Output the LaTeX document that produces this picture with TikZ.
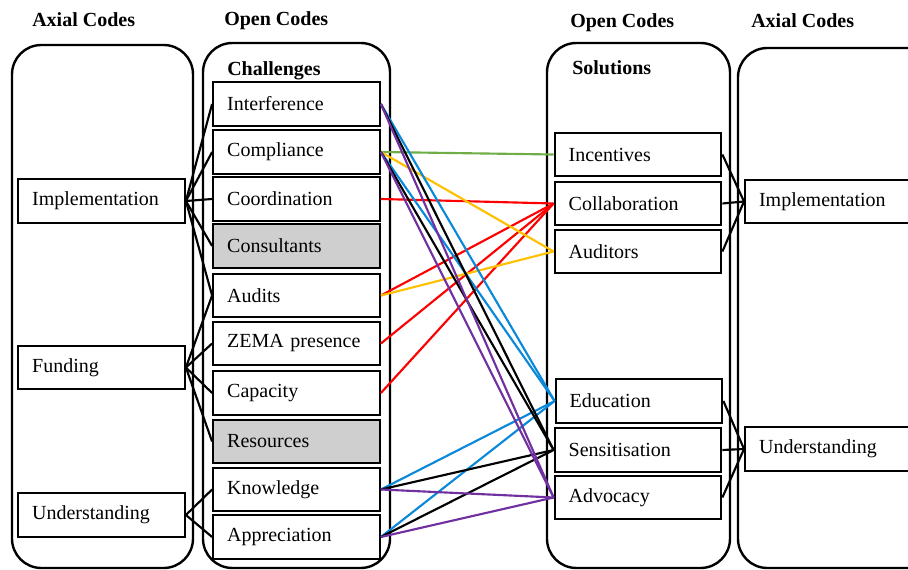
\documentclass[tikz,border=0pt]{standalone}
\usepackage{fontspec}
\setmainfont{Liberation Serif}
\definecolor{lnkgreen}{HTML}{70AD47}
\definecolor{lnkred}{HTML}{FF0000}
\definecolor{lnkyellow}{HTML}{FFC000}
\definecolor{lnkblue}{HTML}{0A88DA}
\definecolor{lnkpurple}{HTML}{7030A0}
\definecolor{greyfill}{HTML}{CFCFCF}
\begin{document}
\begin{tikzpicture}[x=0.75pt,y=-0.75pt,
  outer/.style={draw=black,line width=1.8pt,rounded corners=22pt},
  codebox/.style={draw=black,line width=1.6pt,fill=white,minimum height=32.5pt,
    text width=104pt,align=left,inner xsep=10.5pt,inner ysep=0pt,
    font=\fontsize{15}{18}\selectfont},
  widebox/.style={codebox,text width=125pt},
  shaded/.style={codebox,fill=greyfill},
  head/.style={anchor=base west,inner sep=0pt,font=\fontsize{15}{18}\selectfont\bfseries},
  tie/.style={draw=black,line width=1.6pt},
  link/.style={line width=1.6pt}]
\useasboundingbox (0,0) rectangle (908,570);
\clip (0,0) rectangle (908,570);

% column frames
\draw[outer] (12,45) rectangle (193,568);
\draw[outer] (203,43) rectangle (390,568);
\draw[outer] (547,43) rectangle (730,568);
\draw[outer] (738,48) rectangle (960,568);

% headings
\node[head] (h1) at (32,27) {Axial Codes};
\node[head] (h2) at (224,26) {Open Codes};
\node[head] (h3) at (227,76) {Challenges};
\node[head] (h4) at (570,28) {Open Codes};
\node[head] (h5) at (572,75) {Solutions};
\node[head] (h6) at (751,28) {Axial Codes};

% challenges
\node[codebox] (cInt) at (296.5,104) {Interference};
\node[codebox] (cCom) at (296.5,152) {Compliance};
\node[codebox] (cCoo) at (296.5,199) {Coordination};
\node[shaded]  (cCon) at (296.5,246) {Consultants};
\node[codebox] (cAud) at (296.5,295.5) {Audits};
\node[codebox] (cZem) at (296.5,343.5) {ZEMA presence};
\node[codebox] (cCap) at (296.5,393) {Capacity};
\node[shaded]  (cRes) at (296.5,441.5) {Resources};
\node[codebox] (cKno) at (296.5,489.5) {Knowledge};
\node[codebox] (cApp) at (296.5,537) {Appreciation};

% left axial codes
\node[codebox] (aImp) at (101.5,201) {Implementation};
\node[codebox] (aFun) at (101.5,367.5) {Funding};
\node[codebox] (aUnd) at (101.5,515) {Understanding};

% solutions
\node[codebox] (sInc) at (638,154.5) {Incentives};
\node[codebox] (sCol) at (638,203.5) {Collaboration};
\node[codebox] (sAud) at (638,251.5) {Auditors};
\node[codebox] (sEdu) at (639,401) {Education};
\node[codebox] (sSen) at (638,450) {Sensitisation};
\node[codebox] (sAdv) at (638,497.5) {Advocacy};

% right axial codes
\node[widebox,anchor=west] (rImp) at (744,201.5) {Implementation};
\node[widebox,anchor=west] (rUnd) at (744,449) {Understanding};

% axial to challenge ties
\foreach \c in {cInt,cCom,cCoo,cCon,cAud} \draw[tie] (aImp.east) -- (\c.west);
\foreach \c in {cAud,cZem,cCap,cRes} \draw[tie] (aFun.east) -- (\c.west);
\foreach \c in {cKno,cApp} \draw[tie] (aUnd.east) -- (\c.west);

% solution to axial ties
\foreach \s in {sInc,sCol,sAud} \draw[tie] (\s.east) -- (rImp.west);
\foreach \s in {sEdu,sSen,sAdv} \draw[tie] (\s.east) -- (rUnd.west);

% challenge to solution links
\draw[link,lnkgreen] (cCom.east) -- (sInc.west);
\foreach \c in {cCoo,cAud,cZem,cCap} \draw[link,lnkred] (\c.east) -- (sCol.west);
\foreach \c in {cCom,cAud} \draw[link,lnkyellow] (\c.east) -- (sAud.west);
\foreach \c in {cInt,cCom,cKno,cApp} \draw[link,lnkblue] (\c.east) -- (sEdu.west);
\foreach \c in {cInt,cCom,cKno,cApp} \draw[link,black] (\c.east) -- (sSen.west);
\foreach \c in {cInt,cCom,cKno,cApp} \draw[link,lnkpurple] (\c.east) -- (sAdv.west);
\end{tikzpicture}
\end{document}
